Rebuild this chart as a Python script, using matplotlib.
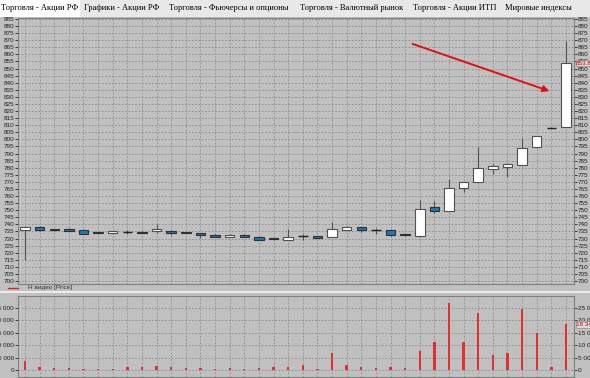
import matplotlib
matplotlib.use("Agg")
import matplotlib.pyplot as plt
from matplotlib.patches import Rectangle
import numpy as np

# ---- data ----
opens  = [736.0, 738.0, 736.8, 737.0, 736.3, 734.5, 733.8, 734.8, 734.9, 735.1,
          735.6, 734.7, 734.0, 732.8, 731.1, 732.8, 731.4, 730.3, 729.2, 731.7,
          731.8, 730.8, 736.2, 738.1, 735.7, 736.3, 732.9, 731.6, 752.0, 749.6,
          765.6, 769.9, 778.9, 780.5, 781.9, 794.4, 808.0, 808.5]
highs  = [738.6, 738.6, 737.0, 737.2, 736.4, 734.8, 735.2, 735.8, 735.0, 740.3,
          735.8, 734.9, 734.2, 733.0, 733.0, 733.0, 731.5, 730.5, 736.4, 733.0,
          732.0, 741.6, 738.7, 738.3, 737.2, 736.4, 733.0, 757.2, 756.8, 772.0,
          770.0, 794.4, 782.6, 783.4, 800.8, 802.6, 808.2, 869.6]
lows   = [714.5, 735.6, 735.5, 735.0, 733.0, 733.3, 733.5, 733.3, 733.6, 733.7,
          732.8, 733.6, 730.4, 731.0, 731.0, 731.0, 729.0, 729.0, 729.0, 728.7,
          730.4, 730.8, 736.0, 734.8, 733.4, 732.1, 731.6, 731.0, 747.8, 749.5,
          763.1, 769.9, 775.6, 773.2, 781.9, 794.0, 807.8, 808.5]
closes = [738.0, 736.0, 735.7, 735.2, 733.2, 733.6, 735.0, 735.0, 733.8, 736.7,
          734.0, 734.0, 732.5, 731.1, 732.8, 731.2, 729.3, 729.5, 730.8, 731.8,
          730.6, 736.5, 737.9, 736.3, 735.8, 732.5, 732.2, 751.0, 749.6, 765.7,
          769.9, 779.8, 781.2, 782.6, 793.9, 802.6, 808.0, 853.8]
volumes = [3900, 1200, 800, 800, 400, 400, 400, 1400, 1400, 1850,
           1200, 1000, 1000, 500, 800, 600, 1000, 1200, 1200, 2100,
           600, 7000, 2200, 1400, 1000, 1200, 1100, 7700, 11300, 26900,
           11300, 22800, 6100, 7000, 24600, 14800, 1200, 18340]
tabs = ["Торговля - Акции РФ", "Графики - Акции РФ", "Торговля - Фьючерсы и опционы",
        "Торговля - Валютный рынок", "Торговля - Акции ИТП", "Мировые индексы"]
price_ticks = list(range(700, 890, 5))
vol_ticks = [0, 5000, 10000, 15000, 20000, 25000]
vol_labels = ["0", "5 000", "10 000", "15 000", "20 000", "25 000"]
legend_label = "Н видео [Price]"
last_price_label = "853.8"
last_vol_label = "18 34"

W, H = 590, 378
BG = "#c0c0c0"
GRID = "#8c8c8c"
BLUE = "#1878b8"
TICKFONT = "Liberation Sans"
fig = plt.figure(figsize=(W / 100, H / 100), dpi=100)
fig.patch.set_facecolor(BG)

def fx(px):
    return px / W

def fy(py):
    return 1 - py / H

n = len(opens)
xs = np.arange(n)
xl = (-0.48, 37.55)

# tab bar
tabax = fig.add_axes([0, fy(17), 1, 17 / H])
tabax.set_xlim(0, W); tabax.set_ylim(0, 17); tabax.axis("off")
tabax.add_patch(Rectangle((0, 0), W, 17, facecolor="#e8e8e8", edgecolor="none"))
tabax.add_patch(Rectangle((0, 0), 80, 17, facecolor="#ffffff", edgecolor="none"))
tab_x = [1, 84, 169, 300, 413, 505]
for t, x in zip(tabs, tab_x):
    tabax.text(x, 8.5, t, fontsize=6.1, family="Liberation Serif", va="center", ha="left", color="#000000")

def style_axis(a):
    a.set_facecolor(BG)
    a.set_xlim(*xl)
    a.set_xticks(xs)
    a.tick_params(axis="x", length=0, labelbottom=False)
    a.tick_params(axis="y", labelsize=4.6, colors="#202020", length=2, width=0.6,
                  left=True, right=True, labelleft=True, labelright=True, pad=0.8)
    for lab in a.get_yticklabels():
        lab.set_family(TICKFONT)
    a.grid(True, color=GRID, linestyle=(0, (2, 2)), linewidth=0.6)
    a.set_axisbelow(True)
    for s in a.spines.values():
        s.set_color("#808080"); s.set_linewidth(0.8)

# main price panel
ax = fig.add_axes([fx(18), fy(284), fx(574 - 18), (284 - 18) / H])
ax.set_ylim(697.9, 885.7)
ax.set_yticks(price_ticks)
ax.set_yticklabels([str(v) for v in price_ticks])
style_axis(ax)

bw = 0.65
for i in range(n):
    o, h, l, c = opens[i], highs[i], lows[i], closes[i]
    ax.vlines(xs[i], l, h, color="#505050", linewidth=0.8, zorder=2)
    if abs(c - o) < 0.3:
        ax.hlines((o + c) / 2, xs[i] - bw / 2, xs[i] + bw / 2, color="#202020", linewidth=1.0, zorder=3)
        continue
    up = c > o
    ax.add_patch(Rectangle((xs[i] - bw / 2, min(o, c)), bw, abs(c - o),
                           facecolor="#ffffff" if up else BLUE,
                           edgecolor="#505050" if up else "#303030",
                           linewidth=0.8, zorder=3))

ax.text(1.004, (853.8 - 697.9) / (885.7 - 697.9), last_price_label, transform=ax.transAxes,
        fontsize=4.6, family=TICKFONT, color="#e00000", va="center", ha="left",
        bbox=dict(boxstyle="square,pad=0.1", facecolor="#d8d8d8", edgecolor="#909090", linewidth=0.5))

# separator / legend
fig.add_artist(plt.Line2D([0, 1], [fy(292), fy(292)], color="#f4f4f4", linewidth=1.2))
fig.add_artist(plt.Line2D([fx(8), fx(18)], [fy(287.5), fy(287.5)], color="#e02020", linewidth=1.0))
fig.text(fx(28), fy(287.5), legend_label, fontsize=4.6, family=TICKFONT, color="#303030", va="center", ha="left")

# volume panel
vax = fig.add_axes([fx(18), fy(376.5), fx(574 - 18), (376.5 - 296) / H])
vax.set_ylim(-2480, 29720)
vax.set_yticks(vol_ticks)
vax.set_yticklabels(vol_labels)
style_axis(vax)
vax.bar(xs, volumes, width=0.16, color="#e03030", edgecolor="none", zorder=3)
vax.text(1.004, (18340 + 2480) / (29720 + 2480), last_vol_label, transform=vax.transAxes,
         fontsize=4.6, family=TICKFONT, color="#e00000", va="center", ha="left",
         bbox=dict(boxstyle="square,pad=0.1", facecolor="#d8d8d8", edgecolor="#909090", linewidth=0.5))

# red arrow
ax.annotate("", xy=(552, H - 92), xycoords="figure pixels",
            xytext=(410, H - 43), textcoords="figure pixels",
            arrowprops=dict(arrowstyle="-|>", color="#e01010", lw=1.4, mutation_scale=9))

fig.savefig("out.png", dpi=100, facecolor=fig.get_facecolor())
